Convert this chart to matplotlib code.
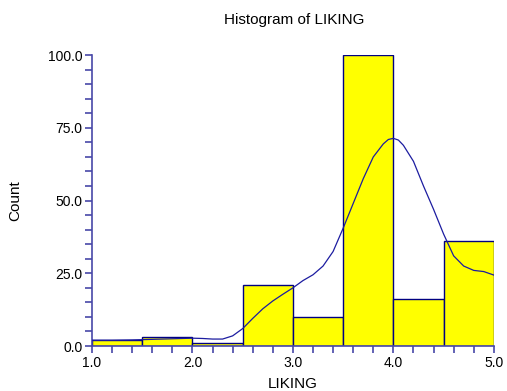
import matplotlib
matplotlib.use("Agg")
import matplotlib.pyplot as plt
from matplotlib.ticker import MultipleLocator

plt.rcParams['font.family'] = ['Liberation Sans', 'DejaVu Sans']

# histogram bins (width 0.5) and counts
bin_left = [1.0, 1.5, 2.0, 2.5, 3.0, 3.5, 4.0, 4.5]
counts = [2, 3, 1, 21, 10, 100, 16, 36]

# density curve
curve_x = [1.0, 1.2, 1.4, 1.6, 1.8, 2.0, 2.1, 2.2, 2.3, 2.4, 2.5, 2.6, 2.7, 2.8,
           2.9, 3.0, 3.1, 3.2, 3.3, 3.4, 3.5, 3.6, 3.7, 3.8, 3.9, 3.95, 4.0,
           4.05, 4.1, 4.2, 4.3, 4.4, 4.5, 4.6, 4.7, 4.8, 4.9, 5.0]
curve_y = [2.0, 2.0, 2.1, 2.3, 2.5, 2.7, 2.6, 2.4, 2.4, 3.5, 6.0, 9.5, 12.8, 15.5,
           17.8, 20.0, 22.5, 24.5, 27.5, 32.5, 40.5, 49.0, 57.5, 65.0, 69.5, 71.0, 71.4,
           70.8, 69.0, 63.5, 55.0, 47.0, 38.5, 31.0, 27.5, 26.0, 25.6, 24.4]

axis_col = '#4848a8'

fig = plt.figure(figsize=(5.07, 3.91), dpi=100)
ax = fig.add_axes([0.1815, 0.115, 0.7925, 0.744])

ax.bar(bin_left, counts, width=0.5, align='edge', color='#ffff00',
       edgecolor='#000080', linewidth=1.0, zorder=2)
ax.plot(curve_x, curve_y, color='#1c1ca0', linewidth=0.9, zorder=3)

ax.set_xlim(1.0, 5.0)
ax.set_ylim(0, 100)
ax.xaxis.set_major_locator(MultipleLocator(1.0))
ax.xaxis.set_minor_locator(MultipleLocator(0.2))
ax.yaxis.set_major_locator(MultipleLocator(25))
ax.yaxis.set_minor_locator(MultipleLocator(5))
ax.xaxis.set_major_formatter(lambda v, p: f"{v:.1f}")
ax.yaxis.set_major_formatter(lambda v, p: f"{v:.1f}")

for s in ['top', 'right']:
    ax.spines[s].set_visible(False)
for s in ['left', 'bottom']:
    ax.spines[s].set_color(axis_col)
    ax.spines[s].set_linewidth(1.2)

ax.tick_params(which='both', direction='out', color=axis_col, width=1.2,
               labelsize=10, labelcolor='black')
ax.tick_params(which='major', length=5, pad=2)
ax.tick_params(which='minor', length=5)

ax.set_xlabel("LIKING", fontsize=11, labelpad=5)
ax.set_ylabel("Count", fontsize=11, labelpad=18)
fig.text(294 / 507, 0.948, "Histogram of LIKING", fontsize=11, ha='center',
         va='center')

fig.savefig("out.png", dpi=100)
